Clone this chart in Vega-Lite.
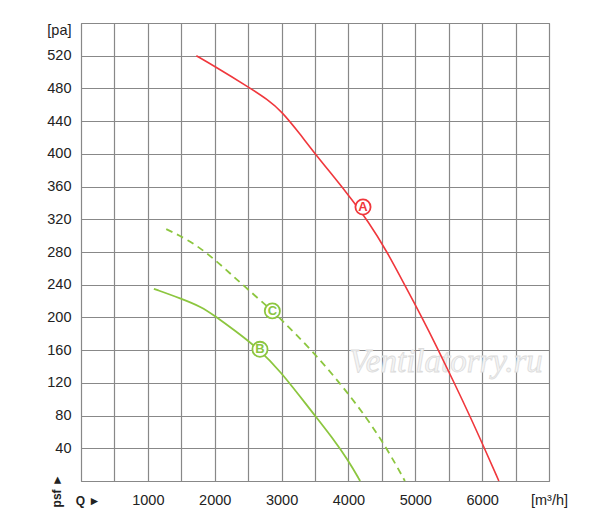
{
  "$schema": "https://vega.github.io/schema/vega-lite/v6.json",
  "width": 468,
  "height": 458,
  "autosize": {"type": "none"},
  "padding": {"left": 81, "top": 23, "right": 51, "bottom": 38},
  "background": "white",
  "config": {
    "view": {"stroke": "#888888", "strokeWidth": 1},
    "font": "Liberation Sans"
  },
  "datasets": {
    "curves": [
      {"series": "A", "q": 1725, "p": 520},
      {"series": "A", "q": 2000, "p": 507},
      {"series": "A", "q": 2500, "p": 482},
      {"series": "A", "q": 2800, "p": 466},
      {"series": "A", "q": 3000, "p": 452},
      {"series": "A", "q": 3250, "p": 427},
      {"series": "A", "q": 3500, "p": 400},
      {"series": "A", "q": 4000, "p": 350},
      {"series": "A", "q": 4300, "p": 317},
      {"series": "A", "q": 4580, "p": 280},
      {"series": "A", "q": 4820, "p": 243},
      {"series": "A", "q": 5100, "p": 200},
      {"series": "A", "q": 5340, "p": 161},
      {"series": "A", "q": 5570, "p": 122},
      {"series": "A", "q": 5820, "p": 79},
      {"series": "A", "q": 6040, "p": 39},
      {"series": "A", "q": 6250, "p": 0},
      {"series": "B", "q": 1090, "p": 235},
      {"series": "B", "q": 1500, "p": 223},
      {"series": "B", "q": 1800, "p": 213},
      {"series": "B", "q": 2000, "p": 202},
      {"series": "B", "q": 2300, "p": 184},
      {"series": "B", "q": 2680, "p": 160},
      {"series": "B", "q": 3000, "p": 132},
      {"series": "B", "q": 3250, "p": 106},
      {"series": "B", "q": 3500, "p": 80},
      {"series": "B", "q": 3750, "p": 54},
      {"series": "B", "q": 4000, "p": 25},
      {"series": "B", "q": 4175, "p": 0},
      {"series": "C", "q": 1275, "p": 308},
      {"series": "C", "q": 1600, "p": 295},
      {"series": "C", "q": 1900, "p": 278},
      {"series": "C", "q": 2228, "p": 254},
      {"series": "C", "q": 2500, "p": 234},
      {"series": "C", "q": 2862, "p": 208},
      {"series": "C", "q": 3000, "p": 197},
      {"series": "C", "q": 3450, "p": 160},
      {"series": "C", "q": 3870, "p": 120},
      {"series": "C", "q": 4250, "p": 80},
      {"series": "C", "q": 4575, "p": 40},
      {"series": "C", "q": 4845, "p": 0}
    ],
    "markers": [
      {"series": "A", "q": 4218, "p": 335},
      {"series": "B", "q": 2677, "p": 161},
      {"series": "C", "q": 2862, "p": 208}
    ],
    "notes": [
      {"label": "psf ►", "kind": "vertical", "q": -360, "p": -12},
      {"label": "Q ►", "kind": "horizontal", "q": 105, "p": -24},
      {"label": "Ventilatorry.ru", "kind": "watermark", "q": 5460, "p": 146}
    ]
  },
  "encoding": {
    "x": {
      "field": "q", "type": "quantitative",
      "scale": {"domain": [0, 7000], "nice": false, "zero": false},
      "axis": {
        "title": null,
        "values": [0, 500, 1000, 1500, 2000, 2500, 3000, 3500, 4000, 4500, 5000, 5500, 6000, 6500, 7000],
        "labelExpr": "datum.value == 0 ? '' : datum.value == 7000 ? '[m³/h]' : (datum.value % 1000 == 0 ? '' + datum.value : '')",
        "labelOverlap": false,
        "labelFlush": false,
        "labelFontSize": 14.5,
        "labelColor": "#222222",
        "labelPadding": 12,
        "ticks": false,
        "domain": false,
        "grid": true,
        "gridColor": "#888888",
        "gridWidth": 1.2
      }
    },
    "y": {
      "field": "p", "type": "quantitative",
      "scale": {"domain": [0, 560], "nice": false, "zero": false},
      "axis": {
        "title": null,
        "values": [0, 40, 80, 120, 160, 200, 240, 280, 320, 360, 400, 440, 480, 520, 560],
        "labelExpr": "datum.value == 560 ? '[pa]' : datum.value == 0 ? '' : '' + datum.value",
        "labelBaseline": {"condition": {"test": "datum.value == 560", "value": "top"}, "value": "middle"},
        "labelOverlap": false,
        "labelFlush": false,
        "labelFontSize": 14.5,
        "labelColor": "#222222",
        "labelPadding": 10,
        "ticks": false,
        "domain": false,
        "grid": true,
        "gridColor": "#888888",
        "gridWidth": 1.2
      }
    }
  },
  "layer": [
    {
      "data": {"name": "notes"},
      "transform": [{"filter": "datum.kind == 'watermark'"}],
      "mark": {"type": "text", "font": "Liberation Serif", "fontStyle": "italic", "fontSize": 33, "fill": "#f4f4f4", "stroke": "#dcdcdc", "strokeWidth": 0.8, "clip": false},
      "encoding": {"text": {"field": "label"}}
    },
    {
      "data": {"name": "curves"},
      "transform": [{"filter": "datum.series == 'A'"}],
      "mark": {"type": "line", "color": "#f0373c", "strokeWidth": 1.6, "interpolate": "basis"},
      "encoding": {"order": {"field": "q", "type": "quantitative"}}
    },
    {
      "data": {"name": "curves"},
      "transform": [{"filter": "datum.series == 'B'"}],
      "mark": {"type": "line", "color": "#8cc63f", "strokeWidth": 1.8, "interpolate": "basis"},
      "encoding": {"order": {"field": "q", "type": "quantitative"}}
    },
    {
      "data": {"name": "curves"},
      "transform": [{"filter": "datum.series == 'C'"}],
      "mark": {"type": "line", "color": "#8cc63f", "strokeWidth": 1.8, "strokeDash": [7, 5], "interpolate": "basis"},
      "encoding": {"order": {"field": "q", "type": "quantitative"}}
    },
    {
      "data": {"name": "markers"},
      "mark": {"type": "point", "shape": "circle", "filled": true, "size": 230, "fill": "white", "strokeWidth": 1.8, "opacity": 1},
      "encoding": {
        "stroke": {"field": "series", "type": "nominal", "scale": {"domain": ["A", "B", "C"], "range": ["#f0373c", "#8cc63f", "#8cc63f"]}, "legend": null}
      }
    },
    {
      "data": {"name": "markers"},
      "mark": {"type": "text", "fontSize": 13, "fontWeight": "bold", "baseline": "middle", "align": "center"},
      "encoding": {
        "text": {"field": "series"},
        "color": {"field": "series", "type": "nominal", "scale": {"domain": ["A", "B", "C"], "range": ["#f0373c", "#8cc63f", "#8cc63f"]}, "legend": null}
      }
    },
    {
      "data": {"name": "notes"},
      "transform": [{"filter": "datum.kind == 'vertical'"}],
      "mark": {"type": "text", "angle": 270, "fontSize": 12, "fontWeight": "bold", "color": "#222222", "clip": false, "baseline": "middle", "align": "center"},
      "encoding": {"text": {"field": "label"}}
    },
    {
      "data": {"name": "notes"},
      "transform": [{"filter": "datum.kind == 'horizontal'"}],
      "mark": {"type": "text", "fontSize": 12, "fontWeight": "bold", "color": "#222222", "clip": false, "baseline": "middle", "align": "center"},
      "encoding": {"text": {"field": "label"}}
    }
  ]
}
